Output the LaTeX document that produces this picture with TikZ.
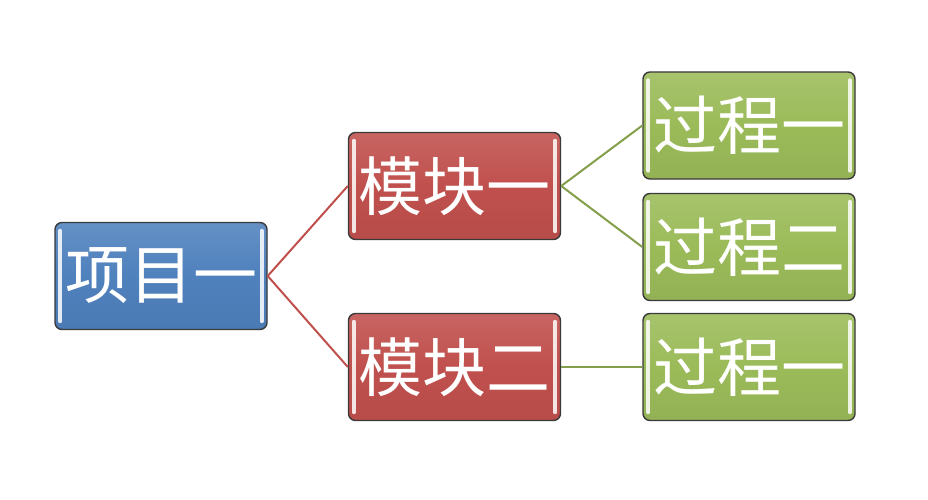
\documentclass[tikz,border=0pt]{standalone}
\usepackage{fontspec}
\newfontfamily\cjk{Noto Sans CJK SC}
\definecolor{cblue}{HTML}{4F81BD}
\definecolor{cred}{HTML}{C0504D}
\definecolor{cgreen}{HTML}{9BBB59}
\definecolor{cborder}{HTML}{3A3A3A}
\begin{document}
\begin{tikzpicture}[x=1pt,y=-1pt,
  boxbase/.style={draw=cborder, line width=1.4pt, rounded corners=7pt,
    minimum width=212pt, minimum height=107pt, inner sep=0pt,
    font=\cjk\fontsize{64}{64}\selectfont, text=white},
  bluebox/.style={boxbase, top color=cblue!88!white, bottom color=cblue!95!black, middle color=cblue},
  redbox/.style={boxbase, top color=cred!88!white, bottom color=cred!95!black, middle color=cred},
  greenbox/.style={boxbase, top color=cgreen!88!white, bottom color=cgreen!95!black, middle color=cgreen},
  shine/.style={white, opacity=0.85, line width=4pt, line cap=round},
  redlink/.style={draw=cred, line width=2pt},
  greenlink/.style={draw=cgreen!85!black, line width=2pt}]
\useasboundingbox (0,0) rectangle (928,500);
\fill[white] (0,0) rectangle (928,500);
\node[bluebox] (p) at (161,276) {项目一};
\node[redbox] (m1) at (454.5,186) {模块一};
\node[redbox] (m2) at (454.5,367) {模块二};
\node[greenbox] (g1) at (749,125.5) {过程一};
\node[greenbox] (g2) at (749,247) {过程二};
\node[greenbox] (g3) at (749,367) {过程一};
\foreach \n in {p,m1,m2,g1,g2,g3}{
  \draw[shine] ([xshift=6pt,yshift=-9pt]\n.north west) -- ([xshift=6pt,yshift=9pt]\n.south west);
  \draw[shine] ([xshift=-6pt,yshift=-9pt]\n.north east) -- ([xshift=-6pt,yshift=9pt]\n.south east);
}
\draw[redlink] (p.east) -- (m1.west);
\draw[redlink] (p.east) -- (m2.west);
\draw[greenlink] (m1.east) -- (g1.west);
\draw[greenlink] (m1.east) -- (g2.west);
\draw[greenlink] (m2.east) -- (g3.west);
\end{tikzpicture}
\end{document}
